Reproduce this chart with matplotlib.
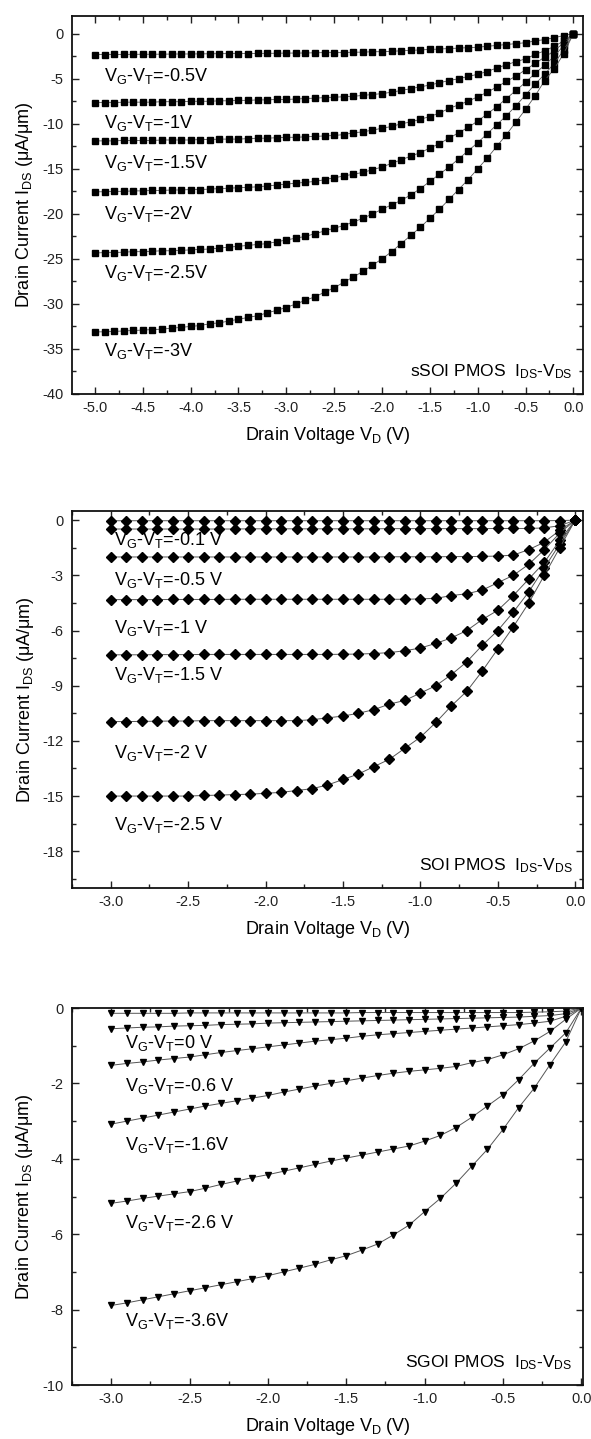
import matplotlib
matplotlib.use("Agg")
import matplotlib.pyplot as plt
from matplotlib.ticker import MultipleLocator, FormatStrFormatter

plt.rcParams.update({
    "font.family": ["Liberation Sans", "DejaVu Sans"],
    "mathtext.fontset": "custom",
    "mathtext.rm": "Liberation Sans",
    "mathtext.it": "Liberation Sans",
    "mathtext.bf": "Liberation Sans:bold",
    "axes.unicode_minus": False,
})

# ---- sSOI PMOS (top panel) ----
VD_SSOI = [0.0, -0.1, -0.2, -0.3, -0.4, -0.5, -0.6, -0.7, -0.8, -0.9, -1.0,
           -1.1, -1.2, -1.3, -1.4, -1.5, -1.6, -1.7, -1.8, -1.9, -2.0,
           -2.1, -2.2, -2.3, -2.4, -2.5, -2.6, -2.7, -2.8, -2.9, -3.0,
           -3.1, -3.2, -3.3, -3.4, -3.5, -3.6, -3.7, -3.8, -3.9, -4.0,
           -4.1, -4.2, -4.3, -4.4, -4.5, -4.6, -4.7, -4.8, -4.9, -5.0]
SSOI_LABELS = ["-0.5V", "-1V", "-1.5V", "-2V", "-2.5V", "-3V"]
SSOI_CURVES = [
    [0, -0.2, -0.45, -0.65, -0.8, -1.0, -1.1, -1.2, -1.3, -1.4, -1.5,
     -1.55, -1.6, -1.65, -1.7, -1.75, -1.8, -1.85, -1.9, -1.95, -2.0,
     -2.0, -2.05, -2.05, -2.1, -2.1, -2.1, -2.12, -2.14, -2.15, -2.15,
     -2.17, -2.18, -2.19, -2.2, -2.2, -2.21, -2.22, -2.23, -2.24, -2.25,
     -2.25, -2.26, -2.27, -2.28, -2.28, -2.29, -2.3, -2.3, -2.31, -2.32],
    [0, -0.8, -1.4, -1.9, -2.3, -2.8, -3.1, -3.45, -3.8, -4.2, -4.5,
     -4.75, -5.0, -5.2, -5.45, -5.7, -5.9, -6.1, -6.3, -6.5, -6.65,
     -6.75, -6.85, -6.95, -7.0, -7.05, -7.1, -7.15, -7.2, -7.25, -7.3,
     -7.3, -7.35, -7.35, -7.4, -7.4, -7.45, -7.45, -7.5, -7.5, -7.5,
     -7.55, -7.55, -7.55, -7.6, -7.6, -7.6, -7.6, -7.65, -7.65, -7.65],
    [0, -1.0, -1.9, -2.6, -3.3, -4.0, -4.7, -5.3, -5.9, -6.5, -7.0,
     -7.5, -7.9, -8.3, -8.8, -9.2, -9.5, -9.8, -10.0, -10.3, -10.5,
     -10.7, -10.9, -11.0, -11.2, -11.3, -11.35, -11.4, -11.45, -11.5, -11.5,
     -11.55, -11.6, -11.6, -11.65, -11.7, -11.7, -11.7, -11.75, -11.75, -11.8,
     -11.8, -11.8, -11.8, -11.85, -11.85, -11.85, -11.85, -11.9, -11.9, -11.9],
    [0, -1.3, -2.5, -3.5, -4.4, -5.4, -6.3, -7.2, -8.1, -8.9, -9.7,
     -10.4, -11.0, -11.6, -12.2, -12.7, -13.2, -13.6, -14.0, -14.4, -14.8,
     -15.1, -15.4, -15.6, -15.8, -16.0, -16.2, -16.4, -16.5, -16.6, -16.7,
     -16.8, -16.9, -17.0, -17.05, -17.1, -17.15, -17.2, -17.25, -17.3, -17.3,
     -17.35, -17.35, -17.4, -17.4, -17.45, -17.45, -17.5, -17.5, -17.55, -17.55],
    [0, -1.8, -3.3, -4.5, -5.6, -6.8, -8.0, -9.1, -10.1, -11.1, -12.1,
     -13.0, -13.9, -14.8, -15.6, -16.4, -17.2, -17.9, -18.5, -19.0, -19.5,
     -20.0, -20.5, -20.9, -21.3, -21.6, -21.9, -22.2, -22.5, -22.7, -22.9,
     -23.1, -23.3, -23.4, -23.5, -23.6, -23.7, -23.8, -23.9, -23.95, -24.0,
     -24.05, -24.1, -24.1, -24.15, -24.2, -24.2, -24.25, -24.3, -24.3, -24.35],
    [0, -2.2, -3.9, -5.2, -6.9, -8.4, -9.8, -11.2, -12.5, -13.8, -15.0,
     -16.2, -17.3, -18.4, -19.5, -20.5, -21.5, -22.4, -23.3, -24.2, -25.0,
     -25.7, -26.4, -27.0, -27.6, -28.2, -28.7, -29.2, -29.6, -30.0, -30.4,
     -30.7, -31.0, -31.3, -31.5, -31.7, -31.9, -32.1, -32.2, -32.4, -32.5,
     -32.6, -32.7, -32.8, -32.85, -32.9, -32.95, -33.0, -33.05, -33.1, -33.1],
]
SSOI_LABEL_Y = [-4.75, -9.9, -14.4, -20.0, -26.6, -35.2]

# ---- SOI PMOS (middle panel) ----
VD_SOI = [0.0, -0.1, -0.2, -0.3, -0.4, -0.5, -0.6, -0.7, -0.8, -0.9, -1.0,
          -1.1, -1.2, -1.3, -1.4, -1.5, -1.6, -1.7, -1.8, -1.9, -2.0,
          -2.1, -2.2, -2.3, -2.4, -2.5, -2.6, -2.7, -2.8, -2.9, -3.0]
SOI_LABELS = ["-0.1 V", "-0.5 V", "-1 V", "-1.5 V", "-2 V", "-2.5 V"]
SOI_CURVES = [
    [0, -0.02, -0.03, -0.03, -0.03, -0.03, -0.03, -0.03, -0.03, -0.03, -0.03,
     -0.03, -0.03, -0.03, -0.03, -0.03, -0.03, -0.03, -0.03, -0.03, -0.03,
     -0.03, -0.03, -0.03, -0.03, -0.03, -0.03, -0.03, -0.03, -0.03, -0.03],
    [0, -0.3, -0.42, -0.45, -0.45, -0.45, -0.46, -0.46, -0.46, -0.46, -0.46,
     -0.46, -0.46, -0.47, -0.47, -0.47, -0.47, -0.47, -0.47, -0.47, -0.47,
     -0.47, -0.48, -0.48, -0.48, -0.48, -0.48, -0.48, -0.48, -0.48, -0.48],
    [0, -0.55, -1.2, -1.6, -1.9, -1.95, -1.97, -1.98, -1.98, -1.99, -1.99,
     -1.99, -1.99, -2.0, -2.0, -2.0, -2.0, -2.0, -2.0, -2.0, -2.0,
     -2.0, -2.0, -2.0, -2.0, -2.0, -2.0, -2.0, -2.0, -2.0, -2.0],
    [0, -0.7, -1.6, -2.4, -3.0, -3.4, -3.8, -4.0, -4.1, -4.25, -4.28,
     -4.3, -4.3, -4.3, -4.3, -4.3, -4.3, -4.3, -4.3, -4.3, -4.3,
     -4.3, -4.3, -4.31, -4.31, -4.31, -4.31, -4.32, -4.32, -4.32, -4.32],
    [0, -1.1, -2.3, -3.2, -4.1, -4.9, -5.4, -6.0, -6.4, -6.7, -6.95,
     -7.1, -7.2, -7.25, -7.28, -7.29, -7.3, -7.3, -7.3, -7.3, -7.3,
     -7.3, -7.3, -7.3, -7.3, -7.31, -7.31, -7.31, -7.32, -7.32, -7.32],
    [0, -1.3, -2.6, -3.9, -5.0, -6.0, -6.8, -7.7, -8.4, -9.0, -9.4,
     -9.8, -10.0, -10.3, -10.5, -10.65, -10.75, -10.85, -10.9, -10.9, -10.9,
     -10.9, -10.9, -10.9, -10.9, -10.92, -10.92, -10.93, -10.94, -10.95, -10.95],
    [0, -1.5, -3.0, -4.5, -5.8, -7.0, -8.2, -9.3, -10.1, -11.0, -11.8,
     -12.4, -13.0, -13.4, -13.8, -14.1, -14.4, -14.6, -14.7, -14.8, -14.85,
     -14.9, -14.92, -14.95, -14.97, -15.0, -15.0, -15.0, -15.0, -15.0, -15.0],
]
SOI_LABEL_Y = [-1.08, -3.25, -5.88, -8.4, -12.66, -16.6]

# ---- SGOI PMOS (bottom panel) ----
VD_SGOI = VD_SOI
SGOI_LABELS = ["0 V", "-0.6 V", "-1.6V", "-2.6 V", "-3.6V"]
SGOI_CURVES = [
    [0, -0.08, -0.1, -0.11, -0.12, -0.12, -0.12, -0.12, -0.12, -0.12, -0.12,
     -0.12, -0.12, -0.12, -0.12, -0.13, -0.13, -0.13, -0.13, -0.13, -0.13,
     -0.13, -0.13, -0.13, -0.13, -0.13, -0.14, -0.14, -0.14, -0.14, -0.14],
    [0, -0.15, -0.2, -0.22, -0.24, -0.25, -0.26, -0.27, -0.28, -0.29, -0.3,
     -0.31, -0.32, -0.33, -0.34, -0.35, -0.36, -0.37, -0.38, -0.39, -0.4,
     -0.42, -0.43, -0.44, -0.46, -0.47, -0.48, -0.5, -0.51, -0.53, -0.55],
    [0, -0.22, -0.35, -0.4, -0.44, -0.47, -0.5, -0.53, -0.56, -0.59, -0.62,
     -0.65, -0.68, -0.71, -0.75, -0.8, -0.84, -0.88, -0.93, -0.98, -1.03,
     -1.08, -1.13, -1.18, -1.24, -1.3, -1.34, -1.38, -1.43, -1.47, -1.52],
    [0, -0.3, -0.62, -0.87, -1.08, -1.24, -1.37, -1.45, -1.55, -1.6, -1.64,
     -1.68, -1.73, -1.79, -1.86, -1.93, -2.0, -2.07, -2.15, -2.23, -2.32,
     -2.39, -2.46, -2.53, -2.6, -2.68, -2.76, -2.84, -2.92, -3.0, -3.08],
    [0, -0.66, -1.06, -1.46, -1.9, -2.3, -2.6, -2.9, -3.17, -3.38, -3.53,
     -3.66, -3.74, -3.82, -3.9, -3.98, -4.06, -4.15, -4.24, -4.33, -4.42,
     -4.5, -4.59, -4.68, -4.78, -4.87, -4.93, -4.99, -5.05, -5.12, -5.18],
    [0, -0.9, -1.5, -2.12, -2.64, -3.22, -3.75, -4.2, -4.65, -5.05, -5.4,
     -5.76, -6.02, -6.26, -6.42, -6.57, -6.68, -6.8, -6.9, -7.0, -7.1,
     -7.18, -7.26, -7.34, -7.42, -7.5, -7.58, -7.66, -7.74, -7.82, -7.89],
]
SGOI_LABEL_Y = [-0.92, -2.06, -3.62, -5.69, -8.3]


def gate_label(value):
    return r"V$_{G}$-V$_{T}$=" + value


def style_axes(ax, xlim, ylim, xmaj, xmin, ymaj, ymin):
    ax.set_xlim(*xlim)
    ax.set_ylim(*ylim)
    ax.xaxis.set_major_locator(MultipleLocator(xmaj))
    ax.xaxis.set_minor_locator(MultipleLocator(xmin))
    ax.yaxis.set_major_locator(MultipleLocator(ymaj))
    ax.yaxis.set_minor_locator(MultipleLocator(ymin))
    ax.xaxis.set_major_formatter(FormatStrFormatter("%.1f"))
    ax.yaxis.set_major_formatter(FormatStrFormatter("%d"))
    ax.tick_params(which="both", direction="in", top=True, right=True,
                   width=1.0, colors="#222222")
    ax.tick_params(which="major", length=5)
    ax.tick_params(which="minor", length=3)
    ax.tick_params(axis="x", labelsize=10.5, pad=5)
    ax.tick_params(axis="y", labelsize=10.5, pad=6)
    for s in ax.spines.values():
        s.set_linewidth(1.3)
        s.set_color("#111111")
    ax.set_xlabel(r"Drain Voltage V$_{D}$ (V)", fontsize=13, labelpad=7)
    ax.set_ylabel(r"Drain Current I$_{DS}$ (μA/μm)", fontsize=13, labelpad=5)


fig = plt.figure(figsize=(5.91, 14.39), dpi=100)
left, width = 0.1218, 0.8646

# top: sSOI
ax1 = fig.add_axes([left, 0.7262, width, 0.2629])
for curve in SSOI_CURVES:
    ax1.plot(VD_SSOI, curve, color="#555555", lw=0.6, marker="s", ms=5,
             mfc="black", mec="black")
for lab, y in zip(SSOI_LABELS, SSOI_LABEL_Y):
    ax1.text(-4.91, y, gate_label(lab), fontsize=13, va="center", ha="left")
ax1.text(0.98, 0.06, r"sSOI PMOS  I$_{DS}$-V$_{DS}$", transform=ax1.transAxes,
         fontsize=12.5, ha="right", va="center")
style_axes(ax1, (-5.24, 0.1), (-40, 2), 0.5, 0.25, 5, 2.5)

# middle: SOI
ax2 = fig.add_axes([left, 0.3829, width, 0.262])
for curve in SOI_CURVES:
    ax2.plot(VD_SOI, curve, color="#555555", lw=0.7, marker="D", ms=5.2,
             mfc="black", mec="black")
for lab, y in zip(SOI_LABELS, SOI_LABEL_Y):
    ax2.text(-2.98, y, gate_label(lab), fontsize=13, va="center", ha="left")
ax2.text(0.98, 0.06, r"SOI PMOS  I$_{DS}$-V$_{DS}$", transform=ax2.transAxes,
         fontsize=12.5, ha="right", va="center")
style_axes(ax2, (-3.25, 0.05), (-20, 0.5), 0.5, 0.25, 3, 1.5)

# bottom: SGOI
ax3 = fig.add_axes([left, 0.0375, width, 0.262])
for curve in SGOI_CURVES:
    ax3.plot(VD_SGOI, curve, color="#555555", lw=0.7, marker="v", ms=5,
             mfc="black", mec="black")
for lab, y in zip(SGOI_LABELS, SGOI_LABEL_Y):
    ax3.text(-2.91, y, gate_label(lab), fontsize=13, va="center", ha="left")
ax3.text(0.98, 0.06, r"SGOI PMOS  I$_{DS}$-V$_{DS}$", transform=ax3.transAxes,
         fontsize=12.5, ha="right", va="center")
style_axes(ax3, (-3.25, 0.01), (-10, 0), 0.5, 0.25, 2, 1)

fig.savefig("out.png", dpi=100)
